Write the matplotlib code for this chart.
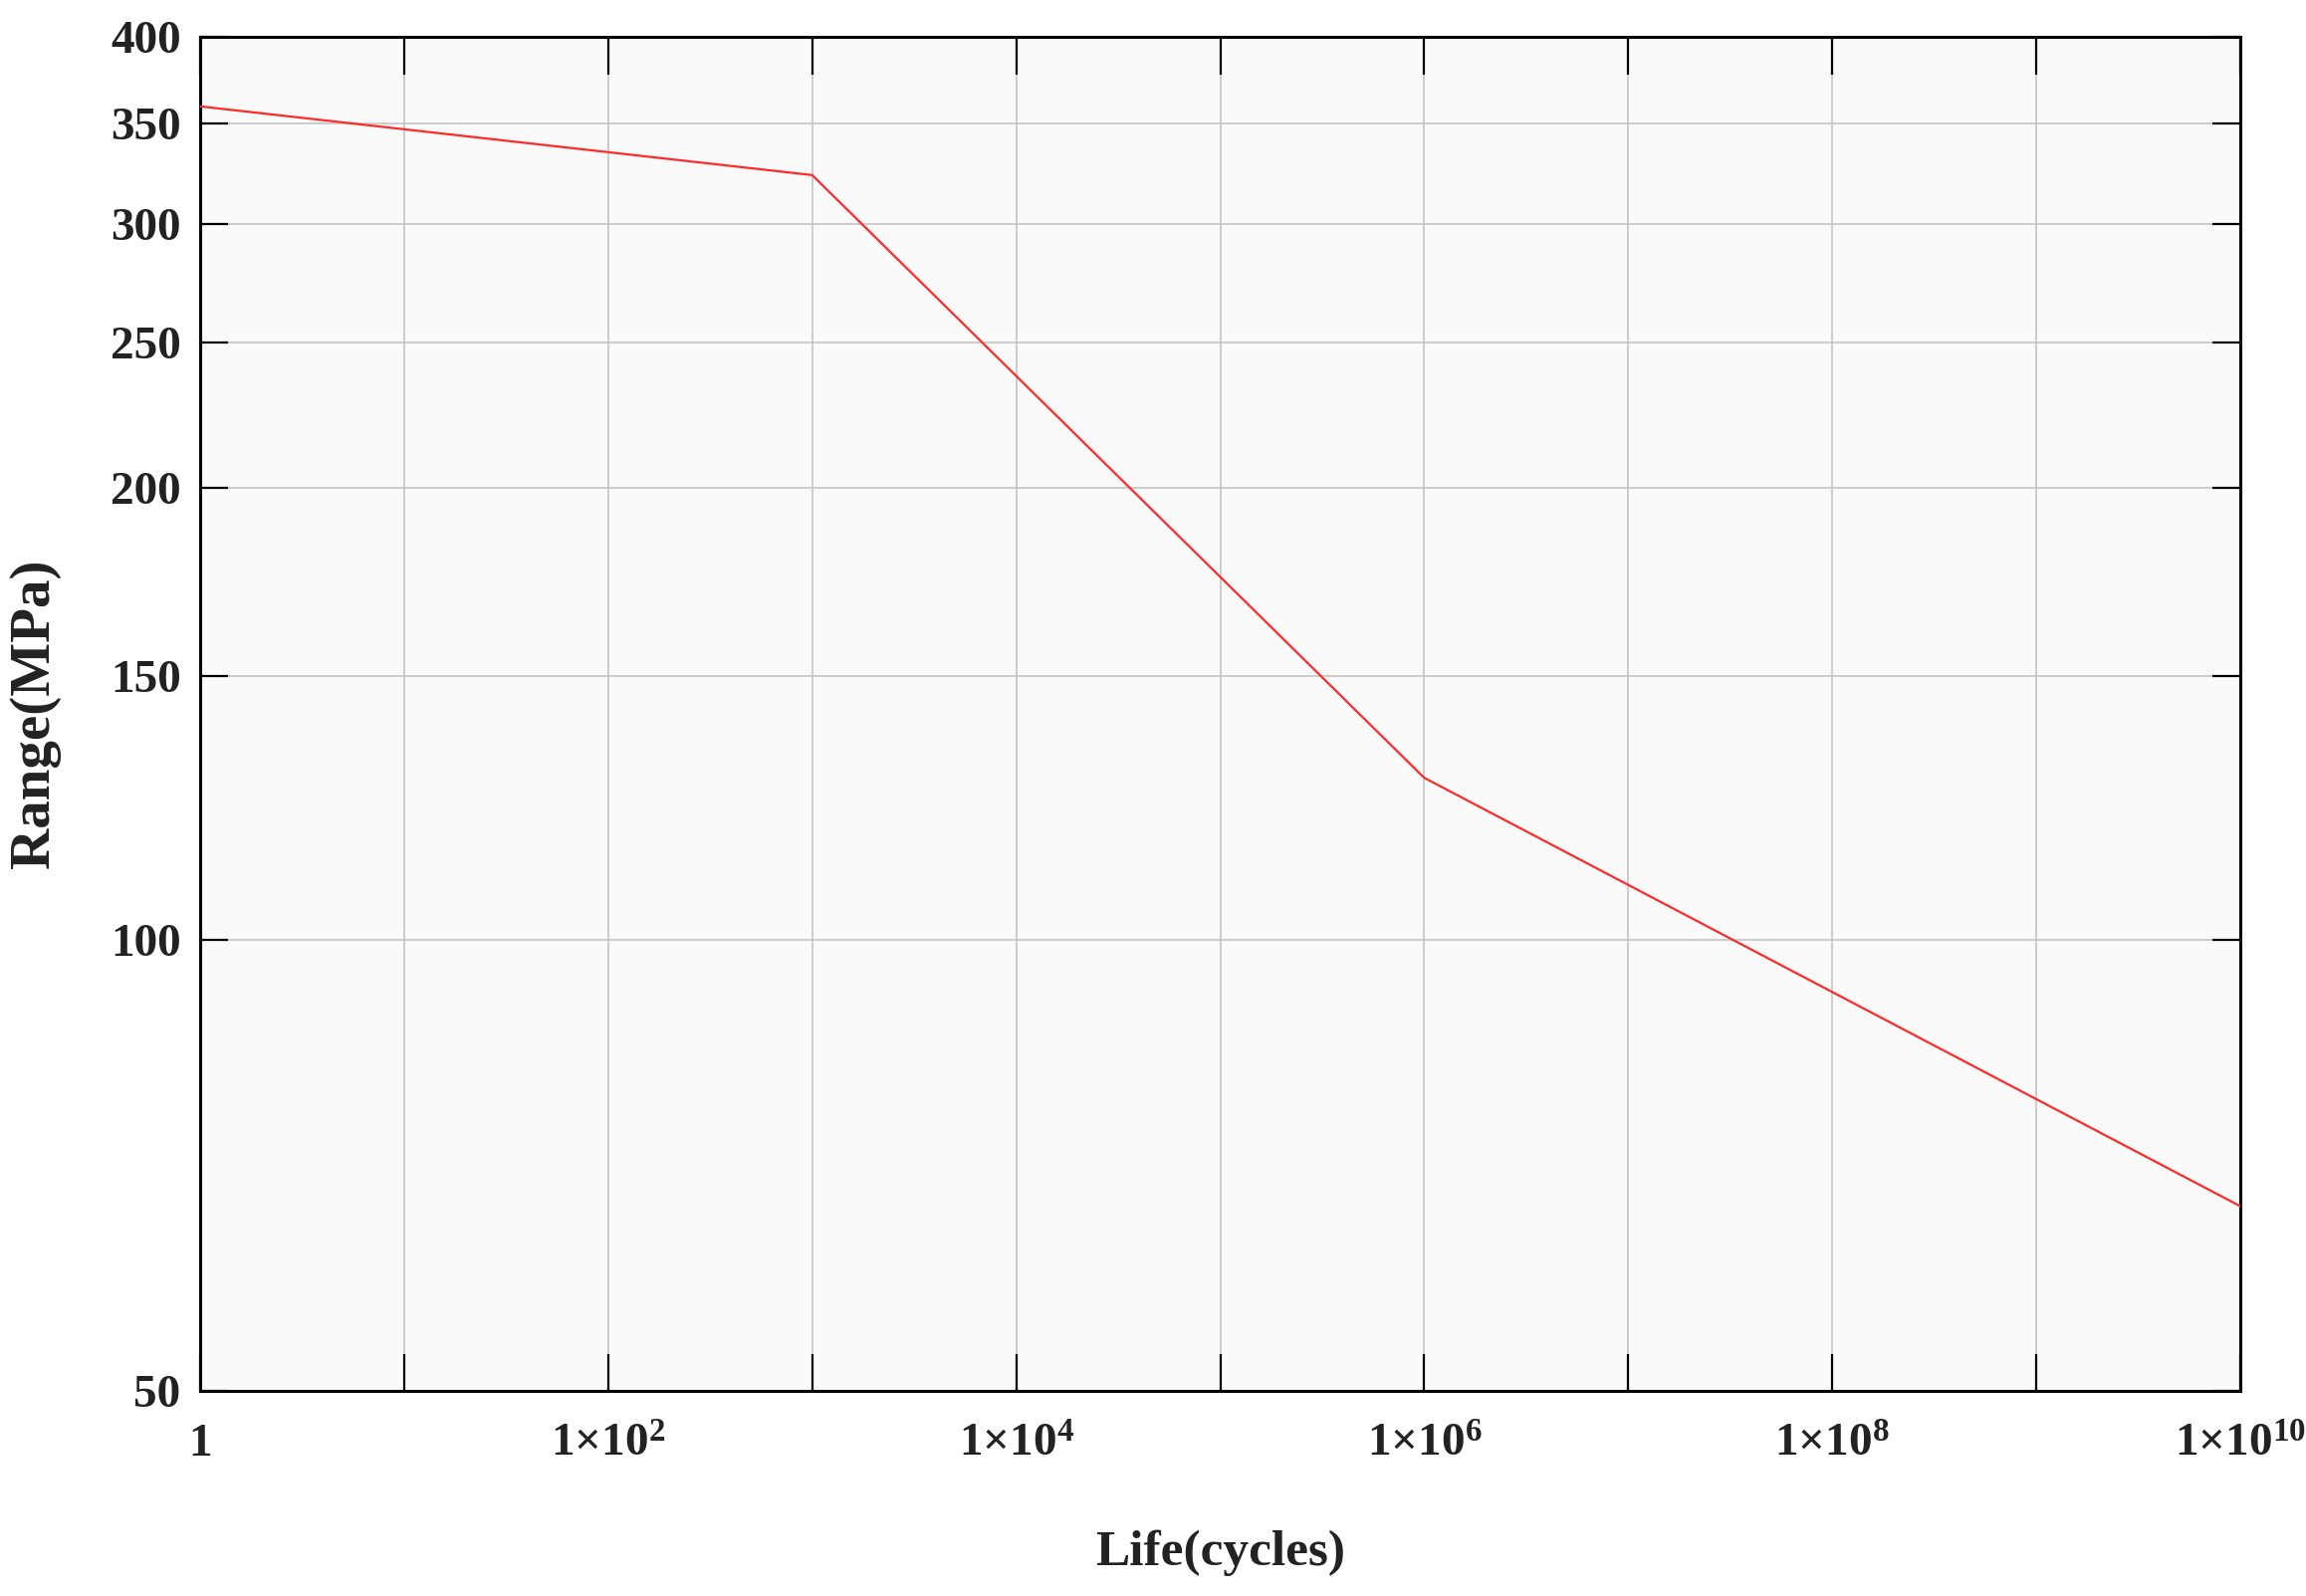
import matplotlib
matplotlib.use("Agg")
import matplotlib.pyplot as plt
from matplotlib.ticker import FixedLocator, FixedFormatter, NullLocator

# ---- data ----
life_cycles = [1, 1e3, 1e6, 1e10]
stress_range = [359.5, 323.5, 128.2, 66.4]

x_grid_ticks = [10.0 ** k for k in range(0, 11)]
x_label_ticks = [1, 1e2, 1e4, 1e6, 1e8, 1e10]
x_tick_labels = ["1", "1×10$^{2}$", "1×10$^{4}$", "1×10$^{6}$", "1×10$^{8}$", "1×10$^{10}$"]
y_ticks = [50, 100, 150, 200, 250, 300, 350, 400]
y_tick_labels = ["50", "100", "150", "200", "250", "300", "350", "400"]

plt.rcParams["font.family"] = ["Liberation Serif", "DejaVu Serif"]
plt.rcParams["font.weight"] = "bold"
plt.rcParams["mathtext.fontset"] = "custom"
plt.rcParams["mathtext.rm"] = "Liberation Serif:bold"
plt.rcParams["mathtext.it"] = "Liberation Serif:bold"
plt.rcParams["mathtext.bf"] = "Liberation Serif:bold"
plt.rcParams["mathtext.default"] = "rm"

fig = plt.figure(figsize=(23.16, 16.03), dpi=100)
fig.patch.set_facecolor("white")
ax = fig.add_axes([0.0868, 0.1285, 0.8847, 0.8484])
ax.set_facecolor("#fafafa")

ax.plot(life_cycles, stress_range, color="#ff2a2a", linewidth=1.6, zorder=3)

ax.set_xscale("log")
ax.set_yscale("log")
ax.set_xlim(1, 1e10)
ax.set_ylim(50, 400)

# x: ticks/grid every decade, labels every second decade
ax.xaxis.set_major_locator(FixedLocator(x_grid_ticks))
xlabels = []
for t in x_grid_ticks:
    if t in x_label_ticks:
        xlabels.append(x_tick_labels[x_label_ticks.index(t)])
    else:
        xlabels.append("")
ax.xaxis.set_major_formatter(FixedFormatter(xlabels))
ax.xaxis.set_minor_locator(NullLocator())

ax.yaxis.set_major_locator(FixedLocator(y_ticks))
ax.yaxis.set_major_formatter(FixedFormatter(y_tick_labels))
ax.yaxis.set_minor_locator(NullLocator())

ax.grid(True, which="major", color="#c4c4c4", linewidth=1.2, zorder=0)
ax.set_axisbelow(True)

for s in ax.spines.values():
    s.set_linewidth(2.2)
    s.set_color("black")

ax.tick_params(axis="x", which="major", direction="in", length=27, width=1.6,
               top=True, bottom=True, labelsize=34, pad=24, colors="black")
ax.tick_params(axis="y", which="major", direction="in", length=20, width=1.6,
               left=True, right=True, labelsize=34, pad=14, colors="black")
for lab in ax.get_xticklabels() + ax.get_yticklabels():
    lab.set_fontweight("bold")
    lab.set_color("#222222")

ax.set_xlabel("Life(cycles)", fontsize=37, fontweight="bold", labelpad=46, color="#222222")
ax.set_ylabel("Range(MPa)", fontsize=41, fontweight="bold", labelpad=36, color="#222222")

fig.savefig("out.png", dpi=100, facecolor="white")
